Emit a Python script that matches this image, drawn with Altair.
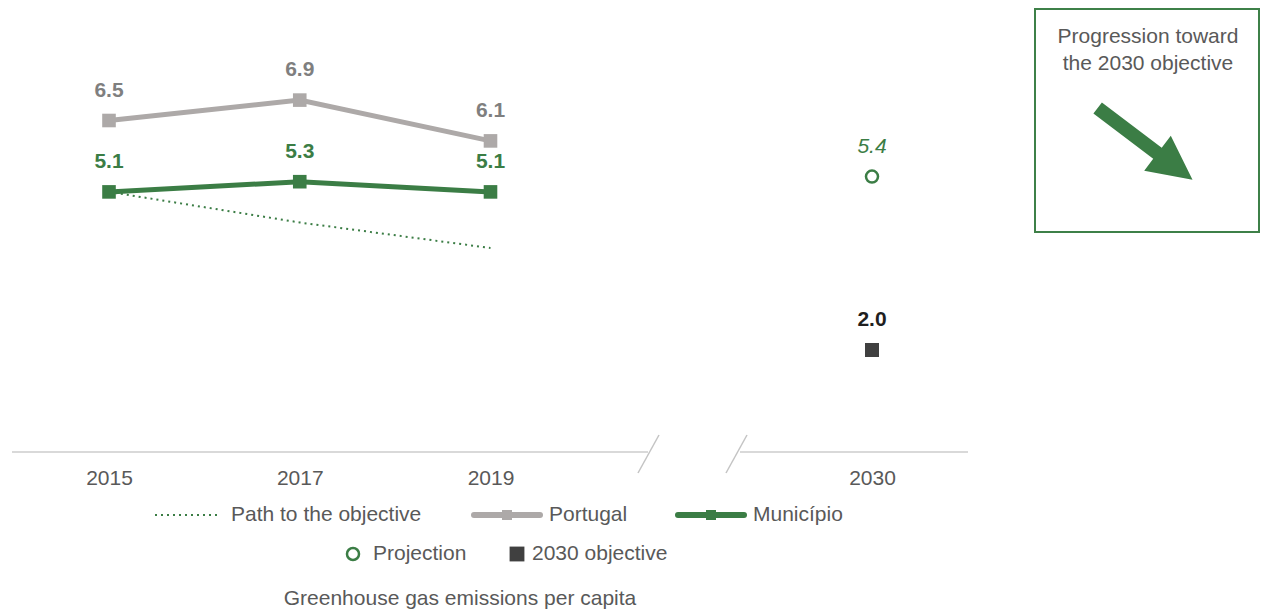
import altair as alt
import pandas as pd

# ---------------- data ----------------
years = [2015, 2017, 2019]
portugal = [6.5, 6.9, 6.1]
municipio = [5.1, 5.3, 5.1]
path_years = [2015, 2017, 2019]
path_values = [5.1, 4.5, 4.0]
target_years = [2030]
projection = [5.4]
objective = [2.0]
tick_years = [2015, 2017, 2019, 2030]

df_pt = pd.DataFrame({"year": years, "value": portugal})
df_mu = pd.DataFrame({"year": years, "value": municipio})
df_path = pd.DataFrame({"year": path_years, "value": path_values})
df_proj = pd.DataFrame({"year": target_years, "value": projection})
df_obj = pd.DataFrame({"year": target_years, "value": objective})
one = pd.DataFrame({"k": [0]})

# ---------------- styles ----------------
GREEN = "#3B7D45"
GREY = "#ADA9A8"
GREY_LBL = "#7F7F7F"
TXT = "#595959"
DARK = "#404040"
FONT = "Liberation Sans"
W, H = 1253, 444
PX_PER_UNIT = 51.0

x_scale = alt.Scale(domain=[2013.941, 2019, 2030, 2034.1],
                    range=[0, 482.5, 864, W])
y_scale = alt.Scale(domain=[0, H / PX_PER_UNIT], nice=False, zero=False)

X = alt.X("year:Q", scale=x_scale,
          axis=alt.Axis(values=tick_years, format="d", domain=False, ticks=False,
                        grid=False, labelFontSize=21, labelColor=TXT, labelFont=FONT,
                        labelPadding=15, title=None, labelFlush=False))
Y = alt.Y("value:Q", scale=y_scale, axis=None)


def rule(x1, y1, x2, y2, **kw):
    return alt.Chart(one).mark_rule(**kw).encode(
        x=alt.value(x1), y=alt.value(y1), x2=alt.value(x2), y2=alt.value(y2))


def label(txt, x, y, **kw):
    base = dict(font=FONT, fontSize=21, color=TXT)
    base.update(kw)
    return alt.Chart(one).mark_text(text=txt, **base).encode(
        x=alt.value(x), y=alt.value(y))


def sym(x, y, **kw):
    base = dict(opacity=1)
    base.update(kw)
    return alt.Chart(one).mark_point(**base).encode(x=alt.value(x), y=alt.value(y))


layers = []

# axis line with break marks
layers.append(rule(4, H, 640, H, color="#D9D9D9", strokeWidth=2))
layers.append(rule(732, H, 960, H, color="#D9D9D9", strokeWidth=2))
layers.append(rule(651, 427, 630, 465, color="#C4C4C4", strokeWidth=1.5))
layers.append(rule(739, 427, 718, 465, color="#C4C4C4", strokeWidth=1.5))

# path to the objective
layers.append(alt.Chart(df_path).mark_line(color=GREEN, strokeWidth=2, strokeDash=[2, 4])
              .encode(x=X, y=Y))

# Portugal
layers.append(alt.Chart(df_pt).mark_line(color=GREY, strokeWidth=5).encode(x=X, y=Y))
layers.append(alt.Chart(df_pt).mark_point(shape="square", size=185, filled=True,
                                          color=GREY, opacity=1).encode(x=X, y=Y))
layers.append(alt.Chart(df_pt).mark_text(dy=-30, font=FONT, fontSize=21, fontWeight="bold",
                                         color=GREY_LBL)
              .encode(x=X, y=Y, text=alt.Text("value:Q", format=".1f")))

# Município
layers.append(alt.Chart(df_mu).mark_line(color=GREEN, strokeWidth=5).encode(x=X, y=Y))
layers.append(alt.Chart(df_mu).mark_point(shape="square", size=185, filled=True,
                                          color=GREEN, opacity=1).encode(x=X, y=Y))
layers.append(alt.Chart(df_mu).mark_text(dy=-30, font=FONT, fontSize=21, fontWeight="bold",
                                         color=GREEN)
              .encode(x=X, y=Y, text=alt.Text("value:Q", format=".1f")))

# Projection
layers.append(alt.Chart(df_proj).mark_point(shape="circle", size=145, filled=False,
                                            color=GREEN, strokeWidth=2.5, opacity=1)
              .encode(x=X, y=Y))
layers.append(alt.Chart(df_proj).mark_text(dy=-30, font=FONT, fontSize=21, fontStyle="italic",
                                           color=GREEN)
              .encode(x=X, y=Y, text=alt.Text("value:Q", format=".1f")))

# 2030 objective
layers.append(alt.Chart(df_obj).mark_point(shape="square", size=196, filled=True,
                                           color=DARK, opacity=1).encode(x=X, y=Y))
layers.append(alt.Chart(df_obj).mark_text(dy=-30, font=FONT, fontSize=21, fontWeight="bold",
                                          color="#1F1F1F")
              .encode(x=X, y=Y, text=alt.Text("value:Q", format=".1f")))

# ---------------- legend ----------------
R1, R2 = 507, 546
layers.append(rule(147, R1, 210, R1, color=GREEN, strokeWidth=2, strokeDash=[2, 4]))
layers.append(label("Path to the objective", 223, R1, align="left", baseline="middle"))
layers.append(rule(466, R1, 532, R1, color=GREY, strokeWidth=6, strokeCap="round"))
layers.append(sym(499, R1, shape="square", size=100, filled=True, color=GREY))
layers.append(label("Portugal", 541, R1, align="left", baseline="middle"))
layers.append(rule(670, R1, 736, R1, color=GREEN, strokeWidth=6, strokeCap="round"))
layers.append(sym(703, R1, shape="square", size=100, filled=True, color=GREEN))
layers.append(label("Município", 745, R1, align="left", baseline="middle"))
layers.append(sym(345, R2, shape="circle", size=145, filled=False, color=GREEN, strokeWidth=2.5))
layers.append(label("Projection", 365, R2, align="left", baseline="middle"))
layers.append(sym(509, R2, shape="square", size=220, filled=True, color=DARK))
layers.append(label("2030 objective", 524, R2, align="left", baseline="middle"))

# bottom title
layers.append(label("Greenhouse gas emissions per capita", 452, 597,
                    align="center", baseline="alphabetic"))

# ---------------- annotation box ----------------
layers.append(alt.Chart(one).mark_rect(fillOpacity=0, stroke="#3E8048", strokeWidth=2)
              .encode(x=alt.value(1027), x2=alt.value(1251), y=alt.value(1), y2=alt.value(224)))
layers.append(label("Progression toward", 1140, 29, align="center", baseline="middle"))
layers.append(label("the 2030 objective", 1140, 56, align="center", baseline="middle"))
arrow_path = ("M-43.6,-41.8 L16.2,3.5 L25.3,-8.5 L47.0,35.6 L-1.3,26.6 "
              "L7.7,14.6 L-52.1,-30.7 Z")
layers.append(sym(1137.5, 136.2, shape=arrow_path, size=4, filled=True,
                  color=GREEN, strokeWidth=0))

chart = alt.layer(*layers).properties(
    width=W, height=H,
    padding={"left": 0, "top": 0, "right": 0, "bottom": 160},
    autosize=alt.AutoSizeParams(type="none"),
).configure_view(stroke=None)

chart.save("out.html", embed_options={"renderer": "svg", "actions": False})
